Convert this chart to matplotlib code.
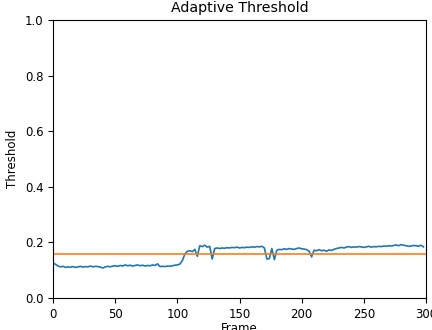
import matplotlib
matplotlib.use("Agg")
import matplotlib.pyplot as plt

frames = list(range(0, 300, 2))
threshold = [
    0.125, 0.121, 0.115, 0.112, 0.114, 0.110, 0.112, 0.111, 0.113, 0.110,
    0.112, 0.114, 0.111, 0.113, 0.112, 0.115, 0.112, 0.114, 0.113, 0.111,
    0.108, 0.112, 0.114, 0.112, 0.115, 0.116, 0.114, 0.117, 0.115, 0.119,
    0.116, 0.118, 0.115, 0.117, 0.119, 0.116, 0.118, 0.115, 0.117, 0.116,
    0.119, 0.117, 0.123, 0.113, 0.114, 0.113, 0.115, 0.114, 0.116, 0.118,
    0.119, 0.122, 0.135, 0.158, 0.168, 0.170, 0.167, 0.175, 0.150, 0.188,
    0.185, 0.190, 0.183, 0.186, 0.140, 0.178, 0.180, 0.178, 0.180, 0.179,
    0.181, 0.180, 0.182, 0.181, 0.183, 0.180, 0.182, 0.181, 0.183, 0.182,
    0.184, 0.183, 0.185, 0.184, 0.186, 0.180, 0.140, 0.142, 0.178, 0.138,
    0.172, 0.175, 0.174, 0.177, 0.175, 0.178, 0.176, 0.175, 0.178, 0.180,
    0.177, 0.176, 0.174, 0.168, 0.148, 0.172, 0.170, 0.174, 0.170, 0.172,
    0.168, 0.173, 0.171, 0.175, 0.178, 0.180, 0.182, 0.180, 0.183, 0.185,
    0.182, 0.184, 0.183, 0.185, 0.184, 0.182, 0.184, 0.186, 0.183, 0.185,
    0.184, 0.186, 0.185, 0.187, 0.186, 0.188, 0.187, 0.189, 0.191, 0.188,
    0.192, 0.190, 0.188, 0.186, 0.187, 0.189, 0.188, 0.186, 0.190, 0.184,
]
fixed_threshold = 0.157

plt.rcParams['font.size'] = 8.5
fig = plt.figure(figsize=(4.32, 3.30), dpi=100)
ax = fig.add_axes([0.123, 0.097, 0.863, 0.842])
ax.plot(frames, threshold, color='#1f77b4', linewidth=1.2)
ax.axhline(fixed_threshold, color='#ff7f0e', linewidth=1.2)
ax.set_xlim(0, 300)
ax.set_ylim(0, 1.0)
ax.set_title('Adaptive Threshold')
ax.set_xlabel('Frame', labelpad=1)
ax.set_ylabel('Threshold')
fig.savefig('out.png', dpi=100)
